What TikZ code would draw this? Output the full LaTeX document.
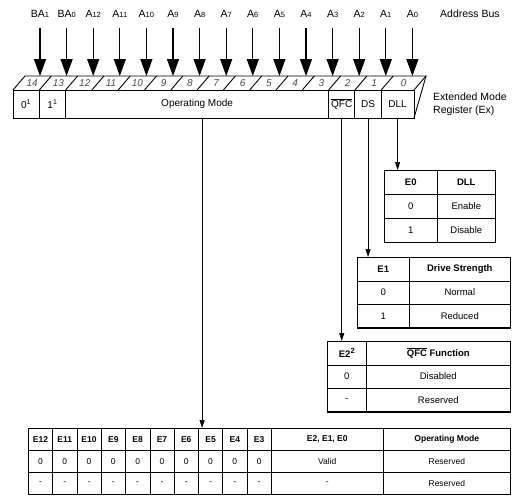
\documentclass[tikz,border=0pt]{standalone}
\usepackage{fontspec}
\setmainfont{Liberation Sans}
\usetikzlibrary{arrows.meta}
\newcommand\sm[1]{{\fontsize{7.5}{7.5}\selectfont #1}}
\begin{document}
\begin{tikzpicture}[x=1pt,y=-1pt,
  lbl/.style={font=\fontsize{10.5}{10.5}\selectfont, inner sep=0pt},
  busarrow/.style={line width=1.25pt, -{Triangle[length=17pt,width=12pt]}},
  conn/.style={line width=0.7pt, -{Triangle[length=8pt,width=5pt]}},
  reg/.style={line width=0.9pt},
  regbox/.style={draw, line width=0.9pt, inner sep=0pt, minimum height=28pt, font=\fontsize{10}{10}\selectfont},
  bitnum/.style={font=\fontsize{10}{10}\selectfont\itshape, text=black!70, inner sep=0pt},
  tcell/.style={draw, line width=0.6pt, anchor=north west, inner sep=0pt, font=\fontsize{9.5}{9.5}\selectfont},
  thead/.style={tcell, font=\fontsize{9.5}{9.5}\selectfont\bfseries},
  bcell/.style={tcell, font=\fontsize{8.5}{8.5}\selectfont},
  bhead/.style={tcell, font=\fontsize{8.5}{8.5}\selectfont\bfseries},
  tshadow/.style={line width=1.3pt}
]
\useasboundingbox (0,0) rectangle (513,499);

% address bus labels and arrows
\foreach \i/\t in {0/BA\sm{1},1/BA\sm{0},2/A\sm{12},3/A\sm{11},4/A\sm{10},5/A\sm{9},6/A\sm{8},7/A\sm{7},8/A\sm{6},9/A\sm{5},10/A\sm{4},11/A\sm{3},12/A\sm{2},13/A\sm{1},14/A\sm{0}}{
  \node[lbl] (a\i) at ({40+26.6*\i},14) {\t};
  \coordinate (s\i) at ({40+26.6*\i},28);
  \coordinate (e\i) at ({40+26.6*\i},76);
  \draw[busarrow] (s\i) -- (e\i);
}
\node[lbl, anchor=west] (abus) at (440,14) {Address Bus};

% register top face
\draw[reg] (13,90) -- (25,76) -- (426,76) -- (414,90);
\foreach \a in {39.3,65.6,91.9,118.2,144.5,170.8,197.1,223.4,249.7,276.0,302.3,328.6,354.9,381.2}{
  \draw[reg] (\a,90) -- ({\a+12},76);
}
\draw[reg] (426,76) -- (414,118);
\foreach \k/\a/\b in {14/13/39.3,13/39.3/65.6,12/65.6/91.9,11/91.9/118.2,10/118.2/144.5,9/144.5/170.8,8/170.8/197.1,7/197.1/223.4,6/223.4/249.7,5/249.7/276.0,4/276.0/302.3,3/302.3/328.6,2/328.6/354.9,1/354.9/381.2,0/381.2/414}{
  \node[bitnum] (n\k) at ({(\a+\b)/2+6},83.5) {\k};
}

% register front face
\node[regbox, minimum width=26.3pt] (b14) at (26.15,104) {0\textsuperscript{1}};
\node[regbox, minimum width=26.3pt] (b13) at (52.45,104) {1\textsuperscript{1}};
\node[regbox, minimum width=263pt] (bOM) at (197.1,104) {Operating Mode};
\node[regbox, minimum width=26.3pt] (bQFC) at (341.75,104) {$\overline{\mbox{QFC}}$};
\node[regbox, minimum width=26.3pt] (bDS) at (368.05,104) {DS};
\node[regbox, minimum width=32.8pt] (bDLL) at (397.6,104) {DLL};

\node[lbl, anchor=west] (ext1) at (433,97) {Extended Mode};
\node[lbl, anchor=west] (ext2) at (433,111) {Register (Ex)};

% DLL table
\node[thead, minimum width=53pt, minimum height=24pt] (dh1) at (384,170) {E0};
\node[thead, minimum width=58pt, minimum height=24pt] (dh2) at (437,170) {DLL};
\node[tcell, minimum width=53pt, minimum height=24pt] (d11) at (384,194) {0};
\node[tcell, minimum width=58pt, minimum height=24pt] (d12) at (437,194) {Enable};
\node[tcell, minimum width=53pt, minimum height=24pt] (d21) at (384,218) {1};
\node[tcell, minimum width=58pt, minimum height=24pt] (d22) at (437,218) {Disable};
\draw[tshadow] (dh2.north east) -- (d22.south east) -- (d21.south west);

% DS table
\node[thead, minimum width=52pt, minimum height=23.5pt] (sh1) at (357,257) {E1};
\node[thead, minimum width=101pt, minimum height=23.5pt] (sh2) at (409,257) {Drive Strength};
\node[tcell, minimum width=52pt, minimum height=23.5pt] (s11) at (357,280.5) {0};
\node[tcell, minimum width=101pt, minimum height=23.5pt] (s12) at (409,280.5) {Normal};
\node[tcell, minimum width=52pt, minimum height=23.5pt] (s21) at (357,304) {1};
\node[tcell, minimum width=101pt, minimum height=23.5pt] (s22) at (409,304) {Reduced};
\draw[tshadow] (sh2.north east) -- (s22.south east) -- (s21.south west);

% QFC table
\node[thead, minimum width=39pt, minimum height=23.5pt] (qh1) at (327,341) {E2\raisebox{0.45em}{\fontsize{7.5}{7.5}\selectfont 2}};
\node[thead, minimum width=144pt, minimum height=23.5pt] (qh2) at (366,341) {$\overline{\mbox{QFC}}$ Function};
\node[tcell, minimum width=39pt, minimum height=23.5pt] (q11) at (327,364.5) {0};
\node[tcell, minimum width=144pt, minimum height=23.5pt] (q12) at (366,364.5) {Disabled};
\node[tcell, minimum width=39pt, minimum height=23.5pt] (q21) at (327,388) {-};
\node[tcell, minimum width=144pt, minimum height=23.5pt] (q22) at (366,388) {Reserved};
\draw[tshadow] (qh2.north east) -- (q22.south east) -- (q21.south west);

% operating mode table
\foreach \k in {0,...,9}{
  \pgfmathsetmacro\xx{28+24.3*\k}
  \pgfmathtruncatemacro\ee{12-\k}
  \node[bhead, minimum width=24.3pt, minimum height=22pt] (oh\k) at (\xx,428) {E\ee};
  \node[bcell, minimum width=24.3pt, minimum height=22pt] (oz\k) at (\xx,450) {0};
  \node[bcell, minimum width=24.3pt, minimum height=22pt] (od\k) at (\xx,472) {-};
}
\node[bhead, minimum width=112pt, minimum height=22pt] (ohA) at (271,428) {E2, E1, E0};
\node[bhead, minimum width=127pt, minimum height=22pt] (ohB) at (383,428) {Operating Mode};
\node[bcell, minimum width=112pt, minimum height=22pt] (ozA) at (271,450) {Valid};
\node[bcell, minimum width=127pt, minimum height=22pt] (ozB) at (383,450) {Reserved};
\node[bcell, minimum width=112pt, minimum height=22pt] (odA) at (271,472) {-};
\node[bcell, minimum width=127pt, minimum height=22pt] (odB) at (383,472) {Reserved};
\draw[tshadow] (ohB.north east) -- (odB.south east) -- (od0.south west);

% connectors
\draw[conn] (bDLL.south) -- (bDLL.south |- dh1.north);
\draw[conn] (bDS.south) -- (bDS.south |- sh1.north);
\draw[conn] (bQFC.south) -- (bQFC.south |- qh1.north);
\coordinate (omtop) at ([xshift=5pt]bOM.south);
\draw[conn] (omtop) -- (omtop |- oh7.north);
\end{tikzpicture}
\end{document}
